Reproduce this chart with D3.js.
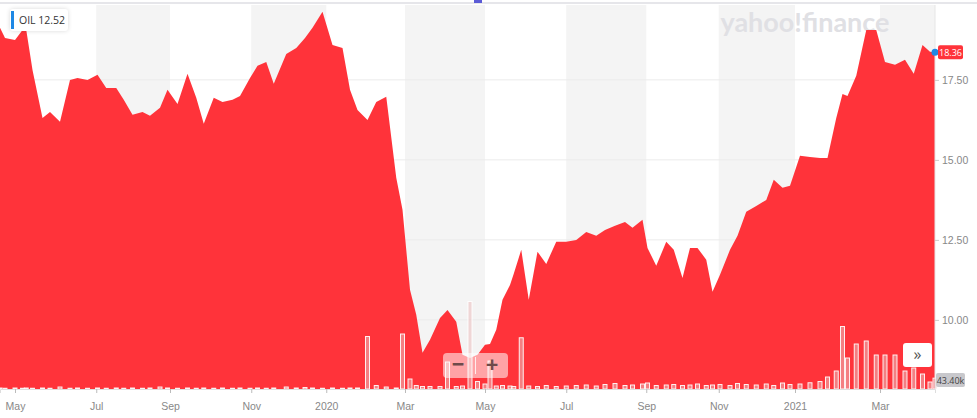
<!DOCTYPE html>
<html lang="en">
<head>
<meta charset="UTF-8">
<title>OIL</title>
<script src="https://d3js.org/d3.v7.min.js"></script>
<style>
  body { margin: 0; background: #fff; font-family: "Open Sans", "Noto Sans", sans-serif; }
  svg { display: block; }
  .tick text { fill: #888; font-size: 10.5px; }
</style>
</head>
<body>
<svg id="chart" width="977" height="418"></svg>
<script>
// days since 22 Apr 2019 (approx.)
var days = [0,4,12,18,21,26,34,40,48,56,62,70,78,85,93,99,106,114,120,128,134,142,150,157,163,171,178,186,192,200,
  206,213,219,229,237,244,250,258,266,274,280,286,294,301,309,317,322,328,333,338,344,352,358,365,370,376,382,388,392,397,
  402,408,411,417,423,430,437,445,453,461,469,477,484,492,500,506,514,518,525,533,539,546,552,558,565,570,576,584,590,597,
  605,613,619,626,632,640,648,656,662,669,674,678,685,693,701,708,716,724,731,738,744,748];
var close = [19.13,18.81,18.75,19.06,19.06,17.81,16.31,16.50,16.19,17.50,17.56,17.50,17.66,17.25,17.25,16.88,16.41,16.50,16.38,16.63,
  17.19,16.75,17.69,16.94,16.13,16.94,16.81,16.88,17.00,17.56,17.94,18.06,17.38,18.31,18.50,18.81,19.13,19.63,18.59,18.50,
  17.19,16.56,16.25,16.81,16.97,14.44,13.44,10.94,10.16,8.97,9.38,10.06,10.31,9.94,8.91,8.81,8.91,9.22,9.25,9.69,
  10.63,11.09,11.44,12.19,10.63,12.13,11.75,12.44,12.44,12.50,12.75,12.63,12.81,12.94,13.06,12.88,13.13,12.25,11.69,12.44,
  12.19,11.31,12.25,12.25,11.88,10.88,11.41,12.19,12.63,13.38,13.56,13.75,14.38,14.13,14.19,15.13,15.09,15.06,15.06,16.31,
  17.06,17.00,17.63,19.06,19.06,18.06,17.97,18.13,17.69,18.59,18.38,18.36];
// volume, thousands
var volume = [4,3,4,3,4,3,4,3,8,3,4,3,4,3,4,3,4,3,4,8,
  4,3,4,3,4,3,4,3,4,3,4,3,4,8,4,6,4,3,4,3,
  4,4,210,14,8,4,220,40,14,10,10,10,108,10,12,350,30,20,112,12,
  14,12,10,205,12,10,14,10,12,14,16,12,18,22,14,16,20,24,14,16,
  18,14,16,20,14,16,18,14,22,18,16,20,14,24,18,20,25,30,48,72,
  250,124,180,192,136,136,136,72,84,60,28,43.4];
var monthDays = [12,77,136,201,261,324,388,453,517,575,636,704];
var monthLabels = ["May","Jul","Sep","Nov","2020","Mar","May","Jul","Sep","Nov","2021","Mar"];
var priceTicks = [10, 12.5, 15, 17.5];
var lastPrice = 18.36, legendPrice = 12.52, lastVolume = "43.40k";

(function() {
var svg = d3.select("#chart");
var pLeft = 0, pRight = 935, pTop = 5, pBottom = 389;

var x = d3.scaleLinear().domain([0, 748]).range([pLeft, pRight]);
var y = d3.scaleLinear().domain([7.84, 19.84]).range([pBottom, pTop]);
var yv = d3.scaleLinear().domain([0, 4]).range([pBottom, pBottom - 1]);

// shaded bands (every other two-month span)
var bands = [];
for (var i = 1; i < monthDays.length; i += 2) {
  bands.push([monthDays[i], i + 1 < monthDays.length ? monthDays[i + 1] : 748]);
}
svg.selectAll(".band").data(bands).enter().append("rect")
  .attr("x", function(d) { return x(d[0]); })
  .attr("width", function(d) { return x(d[1]) - x(d[0]); })
  .attr("y", pTop).attr("height", pBottom - pTop)
  .attr("fill", "#f4f4f4");

svg.append("line").attr("x1", 0).attr("x2", 977).attr("y1", 3).attr("y2", 3)
  .attr("stroke", "#e6e6ea").attr("stroke-width", 2);
svg.append("rect").attr("x", 474).attr("y", 0).attr("width", 8).attr("height", 3).attr("fill", "#5b5bd6");

// grid
svg.selectAll(".grid").data(priceTicks).enter().append("line")
  .attr("x1", pLeft).attr("x2", pRight)
  .attr("y1", function(d) { return y(d); }).attr("y2", function(d) { return y(d); })
  .attr("stroke", "#ebebeb");

// watermark
svg.append("text").attr("x", 805).attr("y", 32).attr("text-anchor", "middle")
  .attr("font-size", 27).attr("font-weight", "bold").attr("fill", "#e0e0e4")
  .attr("font-family", "Lato, sans-serif").text("yahoo!finance");

var pts = days.map(function(d, i) { return { d: d, c: close[i], v: volume[i] }; });

svg.append("path").datum(pts)
  .attr("fill", "#ff333a")
  .attr("d", d3.area().x(function(p) { return x(p.d); }).y0(pBottom).y1(function(p) { return y(p.c); }));

// volume bars
svg.selectAll(".vol").data(pts).enter().append("rect")
  .attr("x", function(p) { return x(p.d) - 2; })
  .attr("width", 4)
  .attr("y", function(p) { return yv(p.v); })
  .attr("height", function(p) { return pBottom - yv(p.v); })
  .attr("fill", "rgba(235,190,190,0.55)")
  .attr("stroke", "rgba(255,255,255,0.9)").attr("stroke-width", 1);

// axes
var xAxis = d3.axisBottom(x).tickValues(monthDays)
  .tickFormat(function(d, i) { return monthLabels[i]; }).tickSize(4);
var gx = svg.append("g").attr("transform", "translate(0," + pBottom + ")").call(xAxis);
gx.select(".domain").attr("stroke", "#ddd");
gx.selectAll(".tick line").attr("stroke", "#bbb");
gx.selectAll(".tick text").attr("dy", "1.3em");

var yAxis = d3.axisRight(y).tickValues(priceTicks).tickFormat(d3.format(".2f")).tickSize(4);
var gy = svg.append("g").attr("transform", "translate(" + pRight + ",0)").call(yAxis);
gy.select(".domain").attr("stroke", "#e6e6e6").attr("d", "M0," + pTop + "V" + pBottom);
gy.selectAll(".tick line").attr("stroke", "#ccc");

// legend
var lg = svg.append("g").attr("transform", "translate(10,9)");
lg.append("rect").attr("width", 58).attr("height", 22).attr("rx", 3).attr("fill", "#fff")
  .style("filter", "drop-shadow(0 0 2px rgba(0,0,0,0.15))");
lg.append("rect").attr("x", 1).attr("y", 2).attr("width", 3).attr("height", 18).attr("fill", "#1e88e5");
lg.append("text").attr("x", 9).attr("y", 15).attr("font-size", 10.5).attr("fill", "#333")
  .text("OIL  " + legendPrice.toFixed(2));

// last price marker
svg.append("circle").attr("cx", x(748)).attr("cy", y(lastPrice)).attr("r", 3.5).attr("fill", "#1e88e5");
svg.append("rect").attr("x", 938).attr("y", y(lastPrice) - 7).attr("width", 25).attr("height", 14).attr("rx", 2)
  .attr("fill", "#ff333a");
svg.append("text").attr("x", 950.5).attr("y", y(lastPrice) + 3.5).attr("text-anchor", "middle")
  .attr("font-size", 9).attr("fill", "#fff").text(lastPrice.toFixed(2));

// volume label
svg.append("rect").attr("x", 936).attr("y", 373).attr("width", 29).attr("height", 14).attr("rx", 2).attr("fill", "#c8c8cc");
svg.append("text").attr("x", 950.5).attr("y", 383.5).attr("text-anchor", "middle")
  .attr("font-size", 9).attr("fill", "#444").text(lastVolume);

// zoom buttons
var zb = svg.append("g").attr("transform", "translate(443,353)");
zb.append("rect").attr("width", 65).attr("height", 25).attr("rx", 4).attr("fill", "rgba(255,255,255,0.55)");
zb.append("line").attr("x1", 32.5).attr("x2", 32.5).attr("y1", 4).attr("y2", 21).attr("stroke", "rgba(255,255,255,0.8)");
zb.append("text").attr("x", 15).attr("y", 19).attr("text-anchor", "middle").attr("font-size", 22)
  .attr("font-weight", "bold").attr("fill", "#6e4a4a").text("\u2212");
zb.append("text").attr("x", 49).attr("y", 19).attr("text-anchor", "middle").attr("font-size", 22)
  .attr("font-weight", "bold").attr("fill", "#6e4a4a").text("+");

var fw = svg.append("g").attr("transform", "translate(903,343)");
fw.append("rect").attr("width", 29).attr("height", 24).attr("rx", 3).attr("fill", "#fff");
fw.append("text").attr("x", 14.5).attr("y", 17).attr("text-anchor", "middle").attr("font-size", 16)
  .attr("fill", "#555").text("\u00bb");
})();
</script>
</body>
</html>
